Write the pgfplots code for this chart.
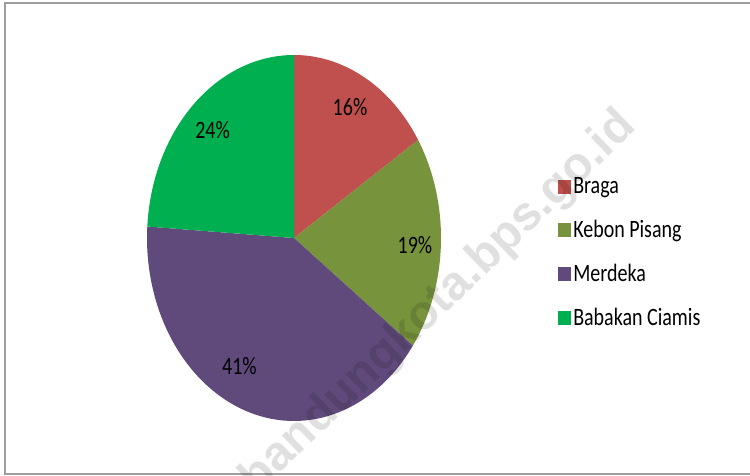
\documentclass[border=0pt]{standalone}
\usepackage{pgfplots}
\pgfplotsset{compat=1.18}
\usepackage{graphicx}
\usepackage{fontspec}
\setmainfont{Carlito}
\newfontfamily\wmfont{Liberation Sans}

\definecolor{braga}{HTML}{C0504D}
\definecolor{kebon}{HTML}{77933C}
\definecolor{merdeka}{HTML}{604A7B}
\definecolor{babakan}{HTML}{00B050}

% shares (%), clockwise from 12 o'clock
\def\vBraga{16}
\def\vKebon{19}
\def\vMerdeka{41}
\def\vBabakan{24}

\newcommand{\st}[1]{\scalebox{1}[1.25]{#1}}

\begin{document}
\begin{tikzpicture}
\useasboundingbox (0pt,0pt) rectangle (750pt,476pt);
\draw[color=black!38, line width=2pt] (5pt,2pt) rectangle (760pt,473pt);

\pgfmathsetmacro{\aA}{90}
\pgfmathsetmacro{\aB}{\aA-3.6*\vBraga}
\pgfmathsetmacro{\aC}{\aB-3.6*\vKebon}
\pgfmathsetmacro{\aD}{\aC-3.6*\vMerdeka}
\pgfmathsetmacro{\aE}{\aD-3.6*\vBabakan}

\begin{axis}[
    at={(294pt,238pt)},
    anchor=center,
    scale only axis,
    width=294pt,
    height=366pt,
    xmin=-1, xmax=1,
    ymin=-1, ymax=1,
    hide axis,
    clip=false,
    samples=90,
    legend style={
        at={(axis cs:1.776,-0.079)},
        anchor=west,
        draw=none,
        fill=none,
        font=\fontsize{20}{24}\selectfont,
        row sep=21pt,
        nodes={inner sep=2pt, text=black},
    },
    legend cell align={left},
    legend image code/.code={\fill[#1] (0pt,-7pt) rectangle (13pt,7pt);},
]
\addplot[fill=braga, draw=none, domain=\aB:\aA] ({cos(x)},{sin(x)}) -- (axis cs:0,0) -- cycle;
\addplot[fill=kebon, draw=none, domain=\aC:\aB] ({cos(x)},{sin(x)}) -- (axis cs:0,0) -- cycle;
\addplot[fill=merdeka, draw=none, domain=\aD:\aC] ({cos(x)},{sin(x)}) -- (axis cs:0,0) -- cycle;
\addplot[fill=babakan, draw=none, domain=\aE:\aD] ({cos(x)},{sin(x)}) -- (axis cs:0,0) -- cycle;
\legend{\st{Braga}, \st{Kebon Pisang}, \st{Merdeka}, \st{Babakan Ciamis}}

\begin{scope}[every node/.style={font=\fontsize{20}{24}\selectfont, text=black}]
\node at (axis cs:0.381,0.716) {\st{16\%}};
\node at (axis cs:0.823,-0.038) {\st{19\%}};
\node at (axis cs:-0.371,-0.702) {\st{41\%}};
\node at (axis cs:-0.554,0.588) {\st{24\%}};
\end{scope}
\end{axis}

\node[rotate=44, text=black, opacity=0.12, font=\wmfont\bfseries\fontsize{48}{54}\selectfont]
    at (439pt,173pt) {bandungkota.bps.go.id};
\end{tikzpicture}
\end{document}
